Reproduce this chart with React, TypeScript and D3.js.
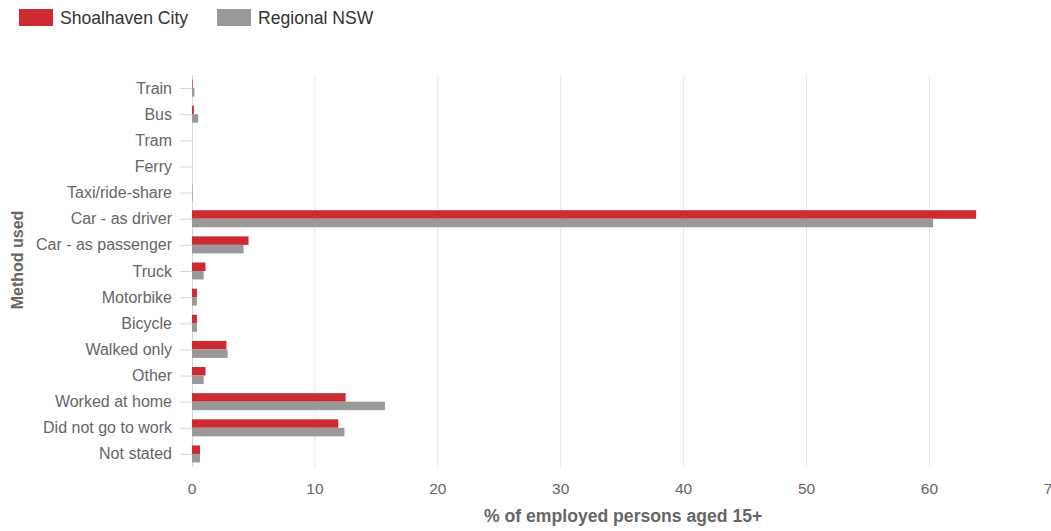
import React from "react";
import * as d3 from "d3";

const categories = [
  "Train", "Bus", "Tram", "Ferry", "Taxi/ride-share", "Car - as driver", "Car - as passenger",
  "Truck", "Motorbike", "Bicycle", "Walked only", "Other", "Worked at home", "Did not go to work", "Not stated",
];
const shoalhaven = [0.05, 0.15, 0, 0, 0.02, 63.8, 4.6, 1.1, 0.4, 0.4, 2.8, 1.1, 12.5, 11.9, 0.65];
const regional = [0.2, 0.5, 0, 0, 0.05, 60.3, 4.2, 0.95, 0.4, 0.4, 2.9, 0.95, 15.7, 12.4, 0.65];
const seriesNames = ["Shoalhaven City", "Regional NSW"];
const xTicks = [0, 10, 20, 30, 40, 50, 60, 70];

const W = 1051, H = 531;
const left = 192, right = 192 + 70 * 12.29, top = 75, bottom = 467;
const colors = ["#cc2b32", "#999999"];
const font = "Arial, 'Liberation Sans', sans-serif";

export default function App() {
  const x = d3.scaleLinear().domain([0, 70]).range([left, right]);
  const y = d3.scaleBand().domain(categories).range([top, bottom]);
  const inner = d3.scaleBand().domain(["a", "b"]).range([0, 17]);
  const series = [shoalhaven, regional];
  return (
    <svg width={W} height={H} style={{ position: "absolute", left: 0, top: 0, background: "#fff" }} fontFamily={font}>
      {/* legend */}
      {seriesNames.map((n, i) => (
        <g key={n} transform={`translate(${i === 0 ? 19 : 217},9)`}>
          <rect width={34} height={17} fill={colors[i]} />
          <text x={41} y={15} fontSize={17.6} fill="#333">{n}</text>
        </g>
      ))}
      {/* grid */}
      {xTicks.map((t) => (
        <g key={t}>
          {t > 0 && <line x1={x(t)} x2={x(t)} y1={top} y2={bottom} stroke="#e6e6e6" />}
          <text x={x(t)} y={494} textAnchor="middle" fontSize={15.5} fill="#666">{t}</text>
        </g>
      ))}
      {/* y axis */}
      <line x1={left + 0.5} x2={left + 0.5} y1={top} y2={bottom} stroke="#ccd6eb" />
      {categories.map((c) => {
        const cy = (y(c) as number) + y.bandwidth() / 2;
        return (
          <g key={c}>
            <line x1={180} x2={left} y1={cy + 0.5} y2={cy + 0.5} stroke="#ccd6eb" />
            <text x={172} y={cy + 5.5} textAnchor="end" fontSize={16} fill="#666">{c}</text>
          </g>
        );
      })}
      {/* bars */}
      {series.map((vals, si) =>
        vals.map((v, i) => {
          const cy = (y(categories[i]) as number) + y.bandwidth() / 2;
          return (
            <rect key={`${si}-${i}`} x={x(0)} y={cy - 8.5 + (inner(si === 0 ? "a" : "b") as number)}
              width={Math.max(0, x(v) - x(0))} height={inner.bandwidth()} fill={colors[si]} />
          );
        })
      )}
      <text transform={`translate(23,260) rotate(-90)`} textAnchor="middle" fontSize={16} fontWeight="bold" fill="#666">Method used</text>
      <text x={(left + right) / 2 + 1} y={522} textAnchor="middle" fontSize={17.6} fontWeight="bold" fill="#666">% of employed persons aged 15+</text>
    </svg>
  );
}
